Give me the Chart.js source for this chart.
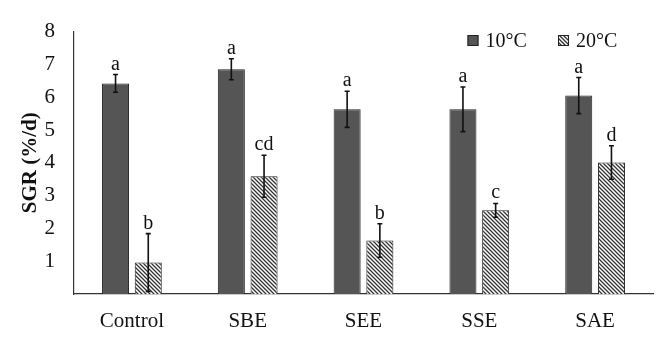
<!DOCTYPE html>
<html>
<head>
<meta charset="utf-8">
<script src="https://cdn.jsdelivr.net/npm/chart.js@4.4.1/dist/chart.umd.min.js"></script>
<style>
  html, body { margin: 0; padding: 0; background: #fff; }
  #wrap { width: 670px; height: 353px; position: relative; }
</style>
</head>
<body>
<div id="wrap"><canvas id="c" width="670" height="353"></canvas></div>
<script>
const categories = ['Control', 'SBE', 'SEE', 'SSE', 'SAE'];
const seriesNames = ['10°C', '20°C'];
const sgr10 = [6.42, 6.85, 5.63, 5.63, 6.05];
const err10 = [0.27, 0.32, 0.55, 0.68, 0.55];
const sgr20 = [0.96, 3.59, 1.63, 2.55, 4.01];
const err20 = [0.88, 0.64, 0.51, 0.21, 0.51];
const letters10 = ['a', 'a', 'a', 'a', 'a'];
const letters20 = ['b', 'cd', 'b', 'c', 'd'];
const yTickLabels = ['', '1', '2', '3', '4', '5', '6', '7', '8'];

const FONT = "'Liberation Serif', 'Times New Roman', serif";

function makeHatch() {
  const s = 4;
  const p = document.createElement('canvas');
  p.width = s; p.height = s;
  const g = p.getContext('2d');
  g.fillStyle = '#ffffff';
  g.fillRect(0, 0, s, s);
  g.strokeStyle = '#333';
  g.lineWidth = 1.3;
  g.beginPath();
  g.moveTo(0, 0); g.lineTo(s, s);
  g.moveTo(-1, s - 1); g.lineTo(1, s + 1);
  g.moveTo(s - 1, -1); g.lineTo(s + 1, 1);
  g.stroke();
  return document.getElementById('c').getContext('2d').createPattern(p, 'repeat');
}
const hatch = makeHatch();

const errors = [err10, err20];
const letters = [letters10, letters20];

const errorBarPlugin = {
  id: 'errorBars',
  afterDatasetsDraw(chart) {
    const ctx = chart.ctx;
    const yScale = chart.scales.y;
    chart.data.datasets.forEach((ds, di) => {
      const meta = chart.getDatasetMeta(di);
      meta.data.forEach((bar, i) => {
        const v = ds.data[i];
        const e = errors[di][i];
        const x = bar.x;
        const yTop = yScale.getPixelForValue(v + e);
        const yBot = yScale.getPixelForValue(Math.max(v - e, 0));
        ctx.save();
        ctx.strokeStyle = '#111';
        ctx.lineWidth = 1.6;
        ctx.beginPath();
        ctx.moveTo(x, yTop); ctx.lineTo(x, yBot);
        ctx.moveTo(x - 2.5, yTop); ctx.lineTo(x + 2.5, yTop);
        ctx.moveTo(x - 2.5, yBot); ctx.lineTo(x + 2.5, yBot);
        ctx.stroke();
        ctx.fillStyle = '#111';
        ctx.font = '20px ' + FONT;
        ctx.textAlign = 'center';
        ctx.textBaseline = 'alphabetic';
        ctx.fillText(letters[di][i], x, yTop - 5);
        ctx.restore();
      });
    });
  }
};

// Legend drawn from the datasets' own labels and fills
const customLegend = {
  id: 'customLegend',
  afterDraw(chart) {
    const ctx = chart.ctx;
    const starts = [467.5, 558];
    const cy = 40.5;
    chart.data.datasets.forEach((ds, di) => {
      const x = starts[di];
      ctx.save();
      ctx.fillStyle = ds.backgroundColor;
      ctx.fillRect(x, cy - 5.5, 11, 11);
      ctx.strokeStyle = '#222';
      ctx.lineWidth = 1;
      ctx.strokeRect(x + 0.5, cy - 5, 10, 10);
      ctx.fillStyle = '#111';
      ctx.font = '20px ' + FONT;
      ctx.textAlign = 'left';
      ctx.textBaseline = 'middle';
      ctx.fillText(ds.label, x + 18, cy + 1);
      ctx.restore();
    });
  }
};

new Chart(document.getElementById('c'), {
  type: 'bar',
  data: {
    labels: categories,
    datasets: [
      {
        label: seriesNames[0],
        data: sgr10,
        backgroundColor: '#555555',
        borderColor: '#222222',
        borderWidth: 1,
        categoryPercentage: 0.565,
        barPercentage: 0.826
      },
      {
        label: seriesNames[1],
        data: sgr20,
        backgroundColor: hatch,
        borderColor: '#222222',
        borderWidth: 1,
        categoryPercentage: 0.565,
        barPercentage: 0.826
      }
    ]
  },
  options: {
    responsive: false,
    animation: false,
    devicePixelRatio: 1,
    layout: { padding: { top: 25, right: 17, bottom: 0, left: 0 } },
    plugins: {
      tooltip: { enabled: false },
      legend: { display: false }
    },
    scales: {
      x: {
        grid: { display: false, drawTicks: false },
        border: { display: true, color: '#333', width: 1.2 },
        ticks: { color: '#111', padding: 15, font: { family: FONT, size: 21 } },
        afterFit(scale) { scale.height = 59; }
      },
      y: {
        min: 0,
        max: 8,
        grid: { display: false, drawTicks: false },
        border: { display: true, color: '#333', width: 1.2 },
        ticks: {
          stepSize: 1,
          padding: 19,
          color: '#111',
          font: { family: FONT, size: 21 },
          callback: (v) => yTickLabels[v]
        },
        title: {
          display: true,
          text: 'SGR (%/d)',
          color: '#111',
          font: { family: FONT, size: 21, weight: 'bold' },
          padding: { top: 18, bottom: 0 }
        },
        afterFit(scale) { scale.width = 74; }
      }
    }
  },
  plugins: [errorBarPlugin, customLegend]
});
</script>
</body>
</html>
